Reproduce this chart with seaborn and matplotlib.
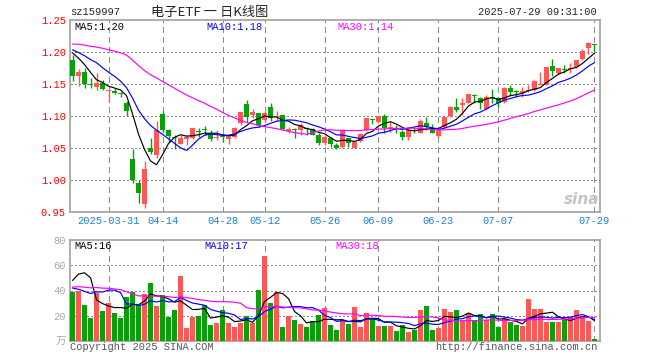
"""Daily candlestick chart of 电子ETF (sz159997) with volume panel"""

import matplotlib
matplotlib.use("Agg")
import matplotlib.pyplot as plt
import numpy as np
import pandas as pd
import seaborn as sns

# 88 trading days, 2025-03-21 .. 2025-07-29
open_price = [
    1.1875, 1.163, 1.168, 1.150, 1.146, 1.151, 1.1385, 1.139, 1.135, 1.120,
    1.033, 0.995, 0.963, 1.050, 1.039, 1.103, 1.078, 1.0667, 1.0568, 1.064,
    1.065, 1.076, 1.079, 1.074, 1.065, 1.069, 1.064, 1.0677, 1.0885, 1.1188,
    1.1016, 1.104, 1.094, 1.1146, 1.099, 1.1016, 1.0766, 1.079, 1.078, 1.0807,
    1.079, 1.070, 1.0573, 1.065, 1.0547, 1.052, 1.065, 1.0505, 1.061, 1.078,
    1.0953, 1.091, 1.100, 1.0807, 1.0807, 1.0755, 1.0677, 1.078, 1.074, 1.0896,
    1.0807, 1.069, 1.0823, 1.100, 1.1135, 1.117, 1.1208, 1.1318, 1.1276, 1.1104,
    1.1292, 1.1276, 1.1224, 1.1432, 1.138, 1.1365, 1.1396, 1.1406, 1.149, 1.1484,
    1.1781, 1.1677, 1.1734, 1.1729, 1.176, 1.189, 1.2068, 1.212,
]
high_price = [
    1.196, 1.174, 1.1745, 1.160, 1.167, 1.156, 1.142, 1.144, 1.138, 1.123,
    1.048, 1.000, 1.029, 1.066, 1.092, 1.108, 1.079, 1.070, 1.070, 1.070,
    1.082, 1.0818, 1.0844, 1.078, 1.078, 1.073, 1.071, 1.083, 1.1057, 1.125,
    1.1104, 1.104, 1.108, 1.120, 1.108, 1.1016, 1.083, 1.081, 1.0885, 1.083,
    1.081, 1.073, 1.070, 1.0677, 1.058, 1.078, 1.066, 1.061, 1.073, 1.0974,
    1.0953, 1.100, 1.1026, 1.091, 1.086, 1.078, 1.083, 1.0807, 1.0948, 1.099,
    1.0875, 1.078, 1.099, 1.1156, 1.1276, 1.1276, 1.1344, 1.1344, 1.1292, 1.1328,
    1.142, 1.129, 1.1458, 1.1484, 1.1406, 1.1448, 1.1484, 1.1563, 1.1693, 1.1771,
    1.1885, 1.1745, 1.1797, 1.1823, 1.1875, 1.204, 1.216, 1.212,
]
low_price = [
    1.155, 1.147, 1.144, 1.144, 1.140, 1.141, 1.122, 1.135, 1.130, 1.100,
    0.996, 0.964, 0.956, 1.041, 1.035, 1.0745, 1.060, 1.048, 1.0557, 1.0547,
    1.064, 1.0677, 1.070, 1.061, 1.0625, 1.060, 1.056, 1.066, 1.086, 1.091,
    1.0964, 1.083, 1.091, 1.092, 1.092, 1.078, 1.073, 1.065, 1.071, 1.071,
    1.0703, 1.0547, 1.0547, 1.052, 1.0484, 1.0495, 1.052, 1.0495, 1.060, 1.0766,
    1.087, 1.0885, 1.073, 1.0755, 1.074, 1.0625, 1.0625, 1.073, 1.0729, 1.078,
    1.0729, 1.0661, 1.0807, 1.098, 1.1068, 1.1016, 1.1198, 1.1208, 1.1104, 1.1094,
    1.1198, 1.1136, 1.1208, 1.1312, 1.130, 1.1292, 1.138, 1.1396, 1.1484, 1.1484,
    1.1625, 1.164, 1.1667, 1.1667, 1.1745, 1.1875, 1.1969, 1.202,
]
close_price = [
    1.163, 1.169, 1.150, 1.149, 1.152, 1.142, 1.1396, 1.136, 1.134, 1.108,
    1.000, 0.980, 1.017, 1.044, 1.078, 1.078, 1.068, 1.065, 1.065, 1.0667,
    1.0818, 1.075, 1.0776, 1.0635, 1.0677, 1.0677, 1.070, 1.082, 1.1057, 1.099,
    1.1057, 1.086, 1.104, 1.097, 1.1005, 1.079, 1.079, 1.0786, 1.086, 1.079,
    1.071, 1.058, 1.0677, 1.0557, 1.0505, 1.078, 1.0573, 1.060, 1.0713, 1.0974,
    1.0935, 1.100, 1.081, 1.0833, 1.079, 1.0677, 1.078, 1.0766, 1.092, 1.0823,
    1.074, 1.078, 1.099, 1.1146, 1.1094, 1.120, 1.1344, 1.1307, 1.1198, 1.130,
    1.1276, 1.1208, 1.1432, 1.138, 1.137, 1.139, 1.1406, 1.1552, 1.150, 1.1771,
    1.1708, 1.1745, 1.1724, 1.1745, 1.1875, 1.202, 1.2146, 1.2115,
]
# volume in 万 (10k)
volume = [
    38.7, 40.0, 28.5, 18.1, 37.9, 23.7, 30.4, 22.4, 18.1, 34.9,
    39.2, 28.5, 37.6, 45.6, 28.0, 36.5, 19.2, 24.5, 51.2, 10.4,
    19.2, 20.0, 28.5, 12.5, 14.4, 24.5, 14.4, 11.2, 14.4, 19.7,
    14.4, 40.5, 67.7, 30.4, 38.9, 10.9, 20.0, 16.5, 13.3, 10.9,
    15.7, 20.5, 26.1, 12.5, 9.1, 16.3, 13.1, 26.7, 10.7, 21.9,
    17.6, 11.7, 11.7, 11.7, 7.7, 12.3, 6.9, 9.1, 24.7, 28.0,
    8.9, 10.4, 25.7, 22.6, 24.7, 15.6, 22.2, 15.6, 21.7, 16.5,
    21.7, 11.0, 17.6, 15.0, 12.5, 11.7, 33.1, 25.5, 25.0, 15.2,
    15.2, 15.2, 16.4, 19.0, 24.5, 20.0, 16.2, 1.3,
]

# the 29 sessions before the window, estimated from where the MA lines start
warmup_close = [
    1.18, 1.19, 1.20, 1.19, 1.20, 1.21, 1.20, 1.21,
    1.22, 1.23, 1.24, 1.25, 1.24, 1.23, 1.24, 1.23, 1.22, 1.23, 1.22, 1.21,
    1.21, 1.20, 1.21, 1.20, 1.22, 1.21, 1.20, 1.21, 1.21,
]
warmup_volume = [
    30, 40, 35, 30, 38, 32, 40, 35,
    85, 90, 75, 40, 45, 35, 30, 38, 42, 36, 30, 35,
    50, 45, 35, 25, 25, 15, 23, 38, 125,
]

tick_index = [6, 15, 25, 32, 42, 51, 61, 71, 87]
tick_labels = ["2025-03-31", "04-14", "04-28", "05-12", "05-26",
               "06-09", "06-23", "07-07", "07-29"]
price_ticks = [0.95, 1.00, 1.05, 1.10, 1.15, 1.20, 1.25]
volume_ticks = [0, 20, 40, 60, 80]
volume_tick_labels = ["万", "20", "40", "60", "80"]

UP = "#ff5656"
DOWN = "#09a009"
MA_COLORS = {5: "black", 10: "#0000ff", 30: "#ff00ff"}
GRID = "#8c8c8c"
FRAME = "#a0a0a0"
MONO = ["Liberation Mono", "DejaVu Sans Mono"]
CJK = ["Noto Sans CJK SC", "DejaVu Sans"]
W, H = 660, 360
FS = 7.5


def px(x, y):
    """ pixel position -> figure fraction """
    return x / W, 1 - y / H


def draw_grid(a, lo, hi, yticks):
    """ dashed verticals at the date ticks, dotted horizontals at the value ticks """
    for t in tick_index:
        a.plot([t, t], [lo, hi], color=GRID, linewidth=1, dashes=(4, 3),
               antialiased=False, zorder=2)
    for t in yticks:
        a.plot([-1, 89], [t, t], color=GRID, linewidth=1, dashes=(1, 2),
               antialiased=False, zorder=2)


sns.set_theme(style="white")
plt.rcParams["font.family"] = MONO
plt.rcParams["font.size"] = FS
plt.rcParams["xtick.labelsize"] = FS
plt.rcParams["ytick.labelsize"] = FS

df = pd.DataFrame({
    "idx": np.arange(len(close_price)),
    "open": open_price, "high": high_price, "low": low_price,
    "close": close_price, "volume": volume,
})
df["direction"] = np.where(df["close"] >= df["open"], "up", "down")
n_warm = len(warmup_close)
full_close = pd.Series(warmup_close + close_price)
full_volume = pd.Series(warmup_volume + volume)
for n in MA_COLORS:
    df[f"ma{n}"] = full_close.rolling(n).mean().iloc[n_warm:].to_numpy()
    df[f"vma{n}"] = full_volume.rolling(n).mean().iloc[n_warm:].to_numpy()

fig = plt.figure(figsize=(W / 100, H / 100), dpi=100)
ax = fig.add_axes([70 / W, 148 / H, 530 / W, 192 / H])
axv = fig.add_axes([70 / W, 19 / H, 530 / W, 101 / H])

draw_grid(ax, 0.95, 1.25, price_ticks[1:-1])
draw_grid(axv, 0, 80, volume_ticks[1:-1])

# candles
colors = np.where(df["direction"] == "up", UP, DOWN)
ax.vlines(df["idx"], df["low"], df["high"], colors=colors, lw=1, zorder=3)
body_bottom = np.minimum(df["open"], df["close"])
body_height = np.maximum((df["close"] - df["open"]).abs(), 0.0015)
ax.bar(df["idx"], body_height, bottom=body_bottom, width=0.8, color=colors,
       linewidth=0, zorder=4)
for n, c in MA_COLORS.items():
    sns.lineplot(data=df, x="idx", y=f"ma{n}", color=c, lw=0.85, ax=ax, zorder=5)

# volume
sns.barplot(data=df, x="idx", y="volume", hue="direction",
            palette={"up": UP, "down": DOWN}, native_scale=True, dodge=False,
            width=0.8, saturation=1, errorbar=None, legend=False,
            linewidth=0, ax=axv, zorder=3)
for n, c in MA_COLORS.items():
    sns.lineplot(data=df, x="idx", y=f"vma{n}", color=c, lw=0.85, ax=axv, zorder=5)

ax.set_ylim(0.95, 1.25)
ax.set_yticks(price_ticks)
ax.set_yticklabels([f"{t:.2f}" for t in price_ticks], color="red")
axv.set_ylim(0, 80)
axv.set_yticks(volume_ticks)
axv.set_yticklabels(volume_tick_labels, color="#a8a8a8")
axv.get_yticklabels()[0].set_family(CJK)

for a in (ax, axv):
    a.set_xlim(-0.42, 87.92)
    a.set_xticks(tick_index)
    a.set_xlabel("")
    a.set_ylabel("")
    a.tick_params(length=0, pad=3)
    for spine in a.spines.values():
        spine.set_color(FRAME)
        spine.set_linewidth(1.2)

ax.set_xticklabels(tick_labels, color="#1c82cc")
axv.set_xticklabels([])

# titles and legends
fig.text(*px(70, 12), "sz159997", va="center", ha="left")
fig.text(*px(210, 12), "电子ETF 一 日K线图", va="center", ha="center",
         family=CJK, fontsize=9.5)
fig.text(*px(597, 12), "2025-07-29 09:31:00", va="center", ha="right")

last = df.iloc[-1]
fig.text(*px(74, 27), f"MA5:{last['ma5']:.2f}", va="center", color=MA_COLORS[5])
fig.text(*px(206, 27), f"MA10:{last['ma10']:.2f}", va="center", color=MA_COLORS[10])
fig.text(*px(337, 27), f"MA30:{last['ma30']:.2f}", va="center", color=MA_COLORS[30])
fig.text(*px(74, 246), f"MA5:{last['vma5']:.0f}", va="center", color=MA_COLORS[5])
fig.text(*px(204, 246), f"MA10:{last['vma10']:.0f}", va="center", color=MA_COLORS[10])
fig.text(*px(335, 246), f"MA30:{last['vma30']:.0f}", va="center", color=MA_COLORS[30])

fig.text(*px(70, 347), "Copyright 2025 SINA.COM", va="center", color="#555555")
fig.text(*px(598, 347), "http://finance.sina.com.cn", va="center", ha="right",
         color="#555555")
fig.text(*px(582, 200), "sina", va="center", ha="center", color="#c4c4c4",
         fontsize=11, style="italic", weight="bold", family="DejaVu Sans")

fig.savefig("out.png", dpi=100)
